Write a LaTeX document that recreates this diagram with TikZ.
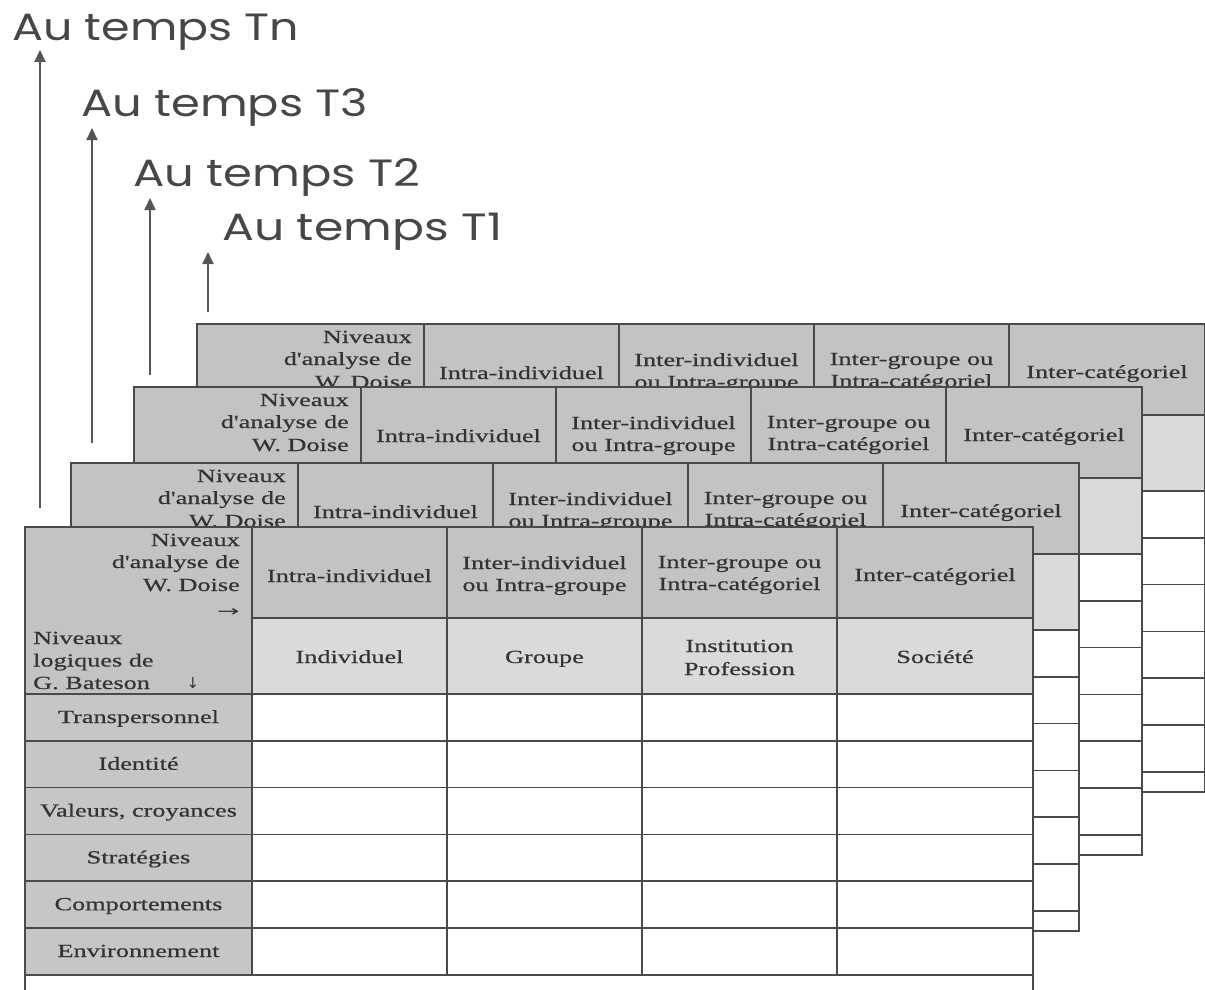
\documentclass[tikz,border=0pt]{standalone}
\usepackage{fontspec}
\usepackage{graphicx}
\usetikzlibrary{arrows.meta}
\newfontfamily\tabfont[FakeStretch=1.42,FakeBold=0.6]{Liberation Serif}
\newfontfamily\timefont{Poppins}
\newfontfamily\symfont{DejaVu Sans}
\definecolor{hdA}{HTML}{C3C3C3}
\definecolor{hdB}{HTML}{DADADA}
\definecolor{labC}{HTML}{C6C6C6}
\definecolor{lineC}{HTML}{4A4A4A}
\definecolor{txtC}{HTML}{333333}
\definecolor{timeC}{HTML}{474747}
\definecolor{arrC}{HTML}{555555}
\tikzset{
  tline/.style={draw=lineC, line width=1.5pt},
  tborder/.style={draw=lineC, line width=2.2pt},
  ttext/.style={font=\tabfont\fontsize{18.5}{22}\selectfont, text=txtC, inner sep=0pt},
  cline/.style={ttext, anchor=base},
  rline/.style={ttext, anchor=base east},
  lline/.style={ttext, anchor=base west},
  symtext/.style={font=\symfont\fontsize{15}{15}\selectfont, text=txtC, inner sep=0pt},
  timelabel/.style={font=\timefont\fontsize{38}{40}\selectfont, text=timeC, anchor=base west, inner sep=0pt},
  timearrow/.style={draw=arrC, line width=2pt, -{Triangle[length=12pt,width=11pt]}},
}
% #1 name prefix, #2 #3 top-left corner, #4 = 1 for the front table (all texts visible)
\newcommand\gridtable[4]{%
\begin{scope}[shift={(#2,#3)}]
  \fill[hdA] (0,0) rectangle (1008,91);
  \fill[hdA] (0,91) rectangle (227,167);
  \fill[hdB] (227,91) rectangle (1008,167);
  \fill[labC] (0,167) rectangle (227,447.8);
  \fill[white] (227,167) rectangle (1008,468);
  \fill[white] (0,447.8) rectangle (227,468);
  \foreach \yy in {213.8,260.6,307.4,354.2,401,447.8} \draw[tline] (0,\yy) -- (1008,\yy);
  \draw[tline] (227,91) -- (1008,91);
  \draw[tline] (0,167) -- (1008,167);
  \foreach \xx in {227,422,617,812} \draw[tline] (\xx,0) -- (\xx,447.8);
  \draw[tborder] (0,0) rectangle (1008,468);
  % corner cell
  \node[rline] (#1-da) at (215,19) {Niveaux};
  \node[rline] (#1-db) at (215,41) {d'analyse de};
  \node[rline] (#1-dc) at (215,64) {W. Doise};
  % header 1
  \node[cline] (#1-h1) at (324.5,55) {Intra-individuel};
  \node[cline] (#1-h2a) at (519.5,42) {Inter-individuel};
  \node[cline] (#1-h2b) at (519.5,64) {ou Intra-groupe};
  \node[cline] (#1-h3a) at (714.5,41) {Inter-groupe ou};
  \node[cline] (#1-h3b) at (714.5,63) {Intra-catégoriel};
  \node[cline] (#1-h4) at (910,54) {Inter-catégoriel};
  \ifnum#4=1
  \node[symtext, anchor=base east] (#1-dr) at (215,89) {\scalebox{1.8}[1]{→}};
  \node[lline] (#1-ba) at (8,117) {Niveaux};
  \node[lline] (#1-bb) at (8,139.5) {logiques de};
  \node[lline] (#1-bc) at (8,162) {G. Bateson};
  \node[symtext, anchor=base] (#1-bd) at (168,161) {↓};
  % header 2
  \node[cline] (#1-g1) at (324.5,136) {Individuel};
  \node[cline] (#1-g2) at (519.5,136) {Groupe};
  \node[cline] (#1-g3a) at (714.5,125) {Institution};
  \node[cline] (#1-g3b) at (714.5,148) {Profession};
  \node[cline] (#1-g4) at (910,136) {Société};
  % row labels
  \node[cline] (#1-r1) at (113.5,196) {Transpersonnel};
  \node[cline] (#1-r2) at (113.5,242.8) {Identité};
  \node[cline] (#1-r3) at (113.5,289.6) {Valeurs, croyances};
  \node[cline] (#1-r4) at (113.5,336.4) {Stratégies};
  \node[cline] (#1-r5) at (113.5,383.2) {Comportements};
  \node[cline] (#1-r6) at (113.5,430) {Environnement};
  \fi
\end{scope}}
\begin{document}
\begin{tikzpicture}[x=1pt,y=-1pt]
\useasboundingbox (0,0) rectangle (1205,990);
\clip (0,0) rectangle (1205,990);
\fill[white] (0,0) rectangle (1205,990);
% time labels
\node[timelabel] (tn) at (12,41) {\resizebox{287pt}{\height}{Au temps Tn}};
\node[timelabel] (t3) at (81,117) {\resizebox{287pt}{\height}{Au temps T3}};
\node[timelabel] (t2) at (133,186) {\resizebox{287pt}{\height}{Au temps T2}};
\node[timelabel] (t1) at (222,240) {\resizebox{280pt}{\height}{Au temps T1}};
% arrows
\coordinate (tn-s) at (40,508);  \coordinate (tn-e) at (40,50);
\coordinate (t3-s) at (92,443);  \coordinate (t3-e) at (92,128);
\coordinate (t2-s) at (150,375); \coordinate (t2-e) at (150,198);
\coordinate (t1-s) at (208,312); \coordinate (t1-e) at (208,252);
\draw[timearrow] (tn-s) -- (tn-e);
\draw[timearrow] (t3-s) -- (t3-e);
\draw[timearrow] (t2-s) -- (t2-e);
\draw[timearrow] (t1-s) -- (t1-e);
% tables, back to front
\gridtable{ta}{197}{324}{0}
\gridtable{tb}{134}{387}{0}
\gridtable{tc}{71}{463}{0}
\gridtable{td}{25}{527}{1}
\end{tikzpicture}
\end{document}
